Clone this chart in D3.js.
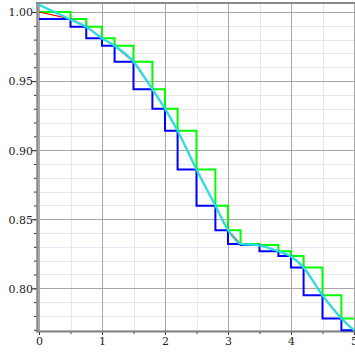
<!DOCTYPE html>
<html><head><meta charset="utf-8">
<script src="https://cdn.jsdelivr.net/npm/d3@7/dist/d3.min.js"></script>
<style>
html,body{margin:0;padding:0;background:#fff;}
svg{display:block;}
</style></head>
<body><svg id="c" width="355" height="355"></svg>
<script>
// Partition nodes and function values at the nodes
const xNodes = [0,0.5,0.75,1.0,1.2,1.5,1.8,2.0,2.2,2.5,2.8,3.0,3.2,3.5,3.8,4.0,4.2,4.5,4.8,5.0];
const fNodes = [1.000,0.995,0.9894,0.981,0.9755,0.964,0.944,0.930,0.914,0.886,0.8597,0.8421,0.8320,0.8313,0.8269,0.8233,0.8151,0.7949,0.7782,0.7697];
// Smooth curve samples (cyan)
const curveX = [0,0.5,0.75,1.0,1.2,1.5,1.8,2.0,2.2,2.5,2.8,3.0,3.2,3.5,3.8,4.0,4.2,4.5,4.8,5.0];
const curveY = [1.0053,0.9945,0.9892,0.981,0.9755,0.964,0.944,0.930,0.914,0.886,0.8597,0.8421,0.8322,0.8310,0.8268,0.8230,0.8151,0.7949,0.7782,0.7697];
// Tick labels
const yMajor = [0.80,0.85,0.90,0.95,1.00];
const xMajor = [0,1,2,3,4,5];
const highlightY = [0.83,0.89];
const highlightX = [2.5];

const svg = d3.select("#c");
const x = d3.scaleLinear().domain([0,5]).range([39,354]);
const y = d3.scaleLinear().domain([0.7691,1.0065]).range([331,3]);

const yMinor = d3.range(77,101).map(v=>v/100);
const xMinor = d3.range(0,11).map(v=>v/2);

// minor grid
const g = svg.append("g");
g.selectAll(".ymin").data(yMinor).join("line")
  .attr("x1",39).attr("x2",355)
  .attr("y1",d=>Math.round(y(d))+0.5).attr("y2",d=>Math.round(y(d))+0.5)
  .attr("stroke",d=>highlightY.some(h=>Math.abs(h-d)<1e-6)?"#e8e8fa":"#e6e6e6").attr("stroke-width",1);
g.selectAll(".xmin").data(xMinor).join("line")
  .attr("y1",3).attr("y2",331)
  .attr("x1",d=>Math.round(x(d))+0.5).attr("x2",d=>Math.round(x(d))+0.5)
  .attr("stroke",d=>highlightX.includes(d)?"#e8e8fa":"#e6e6e6").attr("stroke-width",1);
// major grid
g.selectAll(".ymaj").data(yMajor).join("line")
  .attr("x1",39).attr("x2",355)
  .attr("y1",d=>Math.round(y(d))+0.5).attr("y2",d=>Math.round(y(d))+0.5)
  .attr("stroke","#a8a8a8").attr("stroke-width",1);
g.selectAll(".xmaj").data(xMajor).join("line")
  .attr("y1",3).attr("y2",331)
  .attr("x1",d=>Math.round(x(d))+0.5).attr("x2",d=>Math.round(x(d))+0.5)
  .attr("stroke","#a8a8a8").attr("stroke-width",1);

// axes
const yAxisMinor = d3.axisLeft(y).tickValues(yMinor).tickSize(3).tickFormat("");
const yAxis = d3.axisLeft(y).tickValues(yMajor).tickSize(5).tickFormat(d3.format(".2f"));
const xAxisMinor = d3.axisBottom(x).tickValues(xMinor).tickSize(3).tickFormat("");
const xAxis = d3.axisBottom(x).tickValues(xMajor).tickSize(4).tickFormat(d3.format("d"));

function styleAxis(sel){
  sel.select(".domain").remove();
  sel.selectAll("line").attr("stroke","#333");
  sel.selectAll("text").attr("font-family","DejaVu Serif").attr("font-size",11).attr("fill","#222");
}
svg.append("g").attr("transform","translate(37,0)").call(yAxisMinor).call(styleAxis);
svg.append("g").attr("transform","translate(37,0)").call(yAxis).call(styleAxis)
  .selectAll("text").attr("x",-4).attr("dy","0.35em");
svg.append("g").attr("transform","translate(0,331)").call(xAxisMinor).call(styleAxis);
svg.append("g").attr("transform","translate(0,331)").call(xAxis).call(styleAxis)
  .selectAll("text").attr("y",6).attr("dy","0.71em");

// frame
svg.append("line").attr("x1",37.5).attr("x2",37.5).attr("y1",2).attr("y2",332).attr("stroke","#8a8a8a").attr("stroke-width",2.5);
svg.append("line").attr("x1",36).attr("x2",355).attr("y1",331.5).attr("y2",331.5).attr("stroke","#808080").attr("stroke-width",2);
svg.append("line").attr("x1",36).attr("x2",355).attr("y1",3).attr("y2",3).attr("stroke","#888").attr("stroke-width",2);

const n = xNodes.length;
// green upper steps: value at left node
const greenPts = xNodes.slice(0,n-1).map((xv,i)=>[xv,fNodes[i]]).concat([[xNodes[n-1],fNodes[n-2]]]);
// blue lower steps: value at right node
const bluePts = xNodes.slice(0,n-1).map((xv,i)=>[xv,fNodes[i+1]]).concat([[xNodes[n-1],fNodes[n-1]]]);

const stepLine = d3.line().x(d=>x(d[0])).y(d=>y(d[1])).curve(d3.curveStepAfter);
svg.append("path").attr("d",stepLine(greenPts)).attr("fill","none").attr("stroke","#00ff00").attr("stroke-width",2);
svg.append("path").attr("d",stepLine(bluePts)).attr("fill","none").attr("stroke","#0000ff").attr("stroke-width",2);

// red polyline through nodes
const lin = d3.line().x(d=>x(d[0])).y(d=>y(d[1]));
svg.append("path").attr("d",lin(xNodes.map((v,i)=>[v,fNodes[i]]))).attr("fill","none").attr("stroke","#ff0000").attr("stroke-width",1.2);
// cyan smooth curve
const smooth = d3.line().x(d=>x(d[0])).y(d=>y(d[1])).curve(d3.curveMonotoneX);
svg.append("path").attr("d",smooth(curveX.map((v,i)=>[v,curveY[i]]))).attr("fill","none").attr("stroke","#22e0e8").attr("stroke-width",2.2);
</script></body></html>
